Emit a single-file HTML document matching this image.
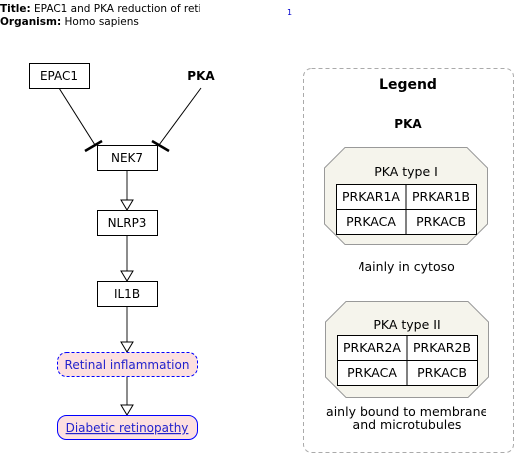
<!DOCTYPE html>
<html><head><style>
body{margin:0;background:#fff;width:527px;height:466px;overflow:hidden}
svg{font-family:"DejaVu Sans","Liberation Sans",sans-serif}
</style></head><body>
<svg width="527" height="466" viewBox="0 0 527 466" xmlns="http://www.w3.org/2000/svg">
<defs>
<clipPath id="c1"><rect x="359" y="255" width="96" height="20"/></clipPath>
<clipPath id="c2"><rect x="325" y="400" width="161" height="35"/></clipPath>
<clipPath id="c0"><rect x="0" y="0" width="200" height="30"/></clipPath>
</defs>
<g clip-path="url(#c0)">
<text x="0" y="12" font-size="10.5"><tspan font-weight="bold">Title:</tspan>  EPAC1 and PKA reduction of retinal inflammation</text>
<text x="0" y="25" font-size="10.5"><tspan font-weight="bold">Organism:</tspan>  Homo sapiens</text>
</g>
<text x="287" y="15" font-size="8" fill="#00c">1</text>

<g stroke="#000" stroke-width="1">
<line x1="59" y1="88" x2="95" y2="145"/>
<line x1="201" y1="88" x2="159" y2="145"/>
<line x1="85" y1="151" x2="102" y2="141" stroke-width="2.5"/>
<line x1="152" y1="141" x2="169" y2="151" stroke-width="2.5"/>
</g>
<g stroke="#666" stroke-width="1.5">
<line x1="127" y1="170" x2="127" y2="200"/>
<line x1="127" y1="235" x2="127" y2="271"/>
<line x1="127" y1="306" x2="127" y2="342"/>
<line x1="127" y1="377" x2="127" y2="405"/>
</g>
<g fill="#fff" stroke="#000" stroke-width="1">
<polygon points="121,200 133,200 127,210"/>
<polygon points="121,271 133,271 127,281"/>
<polygon points="121,342 133,342 127,352"/>
<polygon points="121,405 133,405 127,415"/>
</g>
<g fill="#fff" stroke="#000" stroke-width="1">
<rect x="29.5" y="63.5" width="60" height="25"/>
<rect x="97.5" y="145.5" width="60" height="25"/>
<rect x="97.5" y="210.5" width="60" height="25"/>
<rect x="97.5" y="281.5" width="60" height="25"/>
</g>
<g font-size="12" text-anchor="middle">
<text x="59" y="80">EPAC1</text>
<text x="201" y="80" font-weight="bold">PKA</text>
<text x="127" y="162">NEK7</text>
<text x="127" y="227">NLRP3</text>
<text x="127" y="298">IL1B</text>
</g>
<rect x="57.5" y="352.5" width="140" height="24" rx="9" fill="#fde0e0" stroke="#00f" stroke-dasharray="3,2"/>
<text x="127" y="369" font-size="12" text-anchor="middle" fill="#22c">Retinal inflammation</text>
<rect x="57.5" y="415.5" width="140" height="24" rx="9" fill="#fde0e0" stroke="#00f"/>
<text x="127" y="432" font-size="12" text-anchor="middle" fill="#22c" text-decoration="underline">Diabetic retinopathy</text>

<rect x="303.5" y="68.5" width="210" height="384" rx="8" fill="none" stroke="#aaa" stroke-dasharray="4,3"/>
<text x="408" y="89" font-size="14" font-weight="bold" text-anchor="middle">Legend</text>
<text x="408" y="128" font-size="12" font-weight="bold" text-anchor="middle">PKA</text>

<polygon points="345,147.5 467,147.5 487.5,168 487.5,224 467,244.5 345,244.5 324.5,224 324.5,168" fill="#f5f4ec" stroke="#999"/>
<text x="406" y="176" font-size="12.5" text-anchor="middle">PKA type I</text>
<g fill="#fff" stroke="#000"><rect x="336.5" y="184.5" width="140" height="50"/></g>
<line x1="406" y1="184" x2="406" y2="234" stroke="#000"/><line x1="336" y1="209.5" x2="476" y2="209.5" stroke="#000"/>
<g font-size="12.5" text-anchor="middle">
<text x="371" y="201">PRKAR1A</text><text x="441" y="201">PRKAR1B</text>
<text x="371" y="226">PRKACA</text><text x="441" y="226">PRKACB</text>
<text x="406" y="271" clip-path="url(#c1)">Mainly in cytosol</text>
</g>

<polygon points="346,301.5 468,301.5 488.5,322 488.5,377 468,397.5 346,397.5 325.5,377 325.5,322" fill="#f5f4ec" stroke="#999"/>
<text x="407" y="329" font-size="12.5" text-anchor="middle">PKA type II</text>
<rect x="337.5" y="335.5" width="140" height="50" fill="#fff" stroke="#000"/>
<line x1="407" y1="335" x2="407" y2="385" stroke="#000"/><line x1="337" y1="360.5" x2="477" y2="360.5" stroke="#000"/>
<g font-size="12.5" text-anchor="middle">
<text x="372" y="352">PRKAR2A</text><text x="442" y="352">PRKAR2B</text>
<text x="372" y="377">PRKACA</text><text x="442" y="377">PRKACB</text>
<g clip-path="url(#c2)">
<text x="405" y="416">Mainly bound to membranes</text>
<text x="407" y="429">and microtubules</text>
</g>
</g>
</svg>
</body></html>
